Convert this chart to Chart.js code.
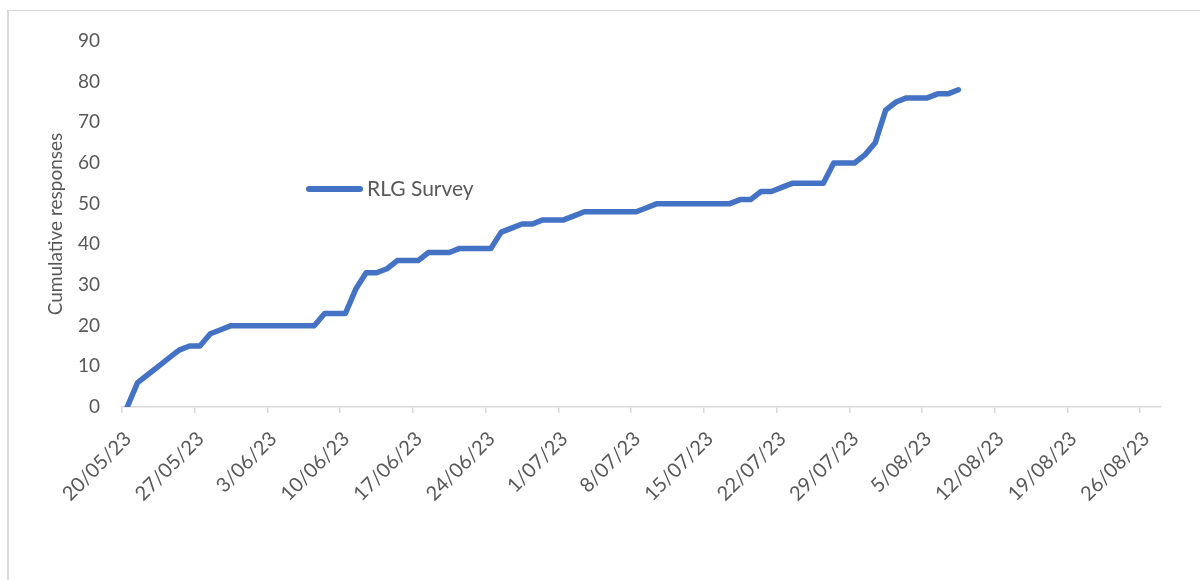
<!DOCTYPE html>
<html>
<head>
<meta charset="utf-8">
<script src="https://cdn.jsdelivr.net/npm/chart.js@4/dist/chart.umd.min.js"></script>
<style>
  html, body { margin: 0; padding: 0; background: #fff; }
  #wrap { position: relative; width: 1200px; height: 580px; }
  #frame { position: absolute; left: 7px; top: 10px; right: 0; bottom: 0; border-top: 1px solid #d9d9d9; border-left: 2px solid #d9d9d9; pointer-events: none; }
  canvas { position: absolute; left: 0; top: 0; }
</style>
</head>
<body>
<div id="wrap">
  <canvas id="c" width="1200" height="580"></canvas>
  <div id="frame"></div>
</div>
<script>
const startDate = '20/05/23';
const dates = [
  '20/05/23','21/05/23','22/05/23','23/05/23','24/05/23','25/05/23','26/05/23','27/05/23','28/05/23','29/05/23',
  '30/05/23','31/05/23','1/06/23','2/06/23','3/06/23','4/06/23','5/06/23','6/06/23','7/06/23','8/06/23',
  '9/06/23','10/06/23','11/06/23','12/06/23','13/06/23','14/06/23','15/06/23','16/06/23','17/06/23','18/06/23',
  '19/06/23','20/06/23','21/06/23','22/06/23','23/06/23','24/06/23','25/06/23','26/06/23','27/06/23','28/06/23',
  '29/06/23','30/06/23','1/07/23','2/07/23','3/07/23','4/07/23','5/07/23','6/07/23','7/07/23','8/07/23',
  '9/07/23','10/07/23','11/07/23','12/07/23','13/07/23','14/07/23','15/07/23','16/07/23','17/07/23','18/07/23',
  '19/07/23','20/07/23','21/07/23','22/07/23','23/07/23','24/07/23','25/07/23','26/07/23','27/07/23','28/07/23',
  '29/07/23','30/07/23','31/07/23','1/08/23','2/08/23','3/08/23','4/08/23','5/08/23','6/08/23','7/08/23',
  '8/08/23'
];
const responses = [
  0, 6, 8, 10, 12, 14, 15, 15, 18, 19,
  20, 20, 20, 20, 20, 20, 20, 20, 20, 23,
  23, 23, 29, 33, 33, 34, 36, 36, 36, 38,
  38, 38, 39, 39, 39, 39, 43, 44, 45, 45,
  46, 46, 46, 47, 48, 48, 48, 48, 48, 48,
  49, 50, 50, 50, 50, 50, 50, 50, 50, 51,
  51, 53, 53, 54, 55, 55, 55, 55, 60, 60,
  60, 62, 65, 73, 75, 76, 76, 76, 77, 77,
  78
];
const tickLabels = ['20/05/23','27/05/23','3/06/23','10/06/23','17/06/23','24/06/23','1/07/23','8/07/23','15/07/23','22/07/23','29/07/23','5/08/23','12/08/23','19/08/23','26/08/23'];
const axisEndDate = '28/08/23';
const yTicks = [0, 10, 20, 30, 40, 50, 60, 70, 80, 90];
const seriesName = 'RLG Survey';
const yTitle = 'Cumulative responses';

function toDate(s) {
  const [d, m, y] = s.split('/').map(Number);
  return Date.UTC(2000 + y, m - 1, d);
}
const DAY = 86400000;
const t0 = toDate(startDate);
const dayOf = s => Math.round((toDate(s) - t0) / DAY);

const points = dates.map((d, i) => ({ x: dayOf(d), y: responses[i] }));
const tickDays = tickLabels.map(dayOf);

const FONT = 'Lato, "Open Sans", sans-serif';
const TEXT = '#595959';
const BLUE = '#4472C4';

const legendPlugin = {
  id: 'innerLegend',
  afterDatasetsDraw(chart) {
    const ctx = chart.ctx;
    const ds = chart.data.datasets[0];
    ctx.save();
    ctx.strokeStyle = ds.borderColor;
    ctx.lineWidth = 6;
    ctx.lineCap = 'round';
    ctx.beginPath();
    ctx.moveTo(309, 189);
    ctx.lineTo(360, 189);
    ctx.stroke();
    ctx.fillStyle = TEXT;
    ctx.font = '21px ' + FONT;
    ctx.textBaseline = 'middle';
    ctx.textAlign = 'left';
    ctx.fillText(ds.label, 367, 189);
    ctx.restore();
  }
};

new Chart(document.getElementById('c'), {
  type: 'line',
  data: {
    datasets: [{
      label: seriesName,
      data: points,
      borderColor: BLUE,
      backgroundColor: BLUE,
      borderWidth: 5.5,
      borderJoinStyle: 'round',
      borderCapStyle: 'round',
      pointRadius: 0,
      tension: 0,
      fill: false
    }]
  },
  options: {
    responsive: false,
    animation: false,
    devicePixelRatio: 1,
    layout: { padding: { top: 41, right: 39, left: 0, bottom: 0 } },
    plugins: { legend: { display: false }, tooltip: { enabled: false } },
    scales: {
      x: {
        type: 'linear',
        min: -0.5,
        max: dayOf(axisEndDate) - 0.5,
        afterBuildTicks(scale) {
          scale.ticks = tickDays.map(d => ({ value: d - 0.5 }));
        },
        afterFit(scale) { scale.height = 173; },
        grid: { display: true, drawOnChartArea: false, drawTicks: true, tickLength: 6, color: '#d9d9d9', lineWidth: 1.5 },
        border: { display: true, color: '#d9d9d9', width: 1.5 },
        ticks: {
          autoSkip: false,
          minRotation: 45,
          maxRotation: 45,
          padding: 14,
          labelOffset: 6,
          color: TEXT,
          font: { family: FONT, size: 20 },
          callback: (v, i) => tickLabels[i]
        }
      },
      y: {
        min: yTicks[0],
        max: yTicks[yTicks.length - 1],
        afterBuildTicks(scale) {
          scale.ticks = yTicks.map(v => ({ value: v }));
        },
        afterFit(scale) { scale.width = 122; },
        grid: { display: false, drawTicks: false },
        border: { display: false },
        ticks: {
          padding: 22,
          color: TEXT,
          font: { family: FONT, size: 19 }
        },
        title: {
          display: true,
          text: yTitle,
          color: TEXT,
          font: { family: FONT, size: 19 },
          padding: { top: 44, bottom: 0 }
        }
      }
    }
  },
  plugins: [legendPlugin]
});
</script>
</body>
</html>
